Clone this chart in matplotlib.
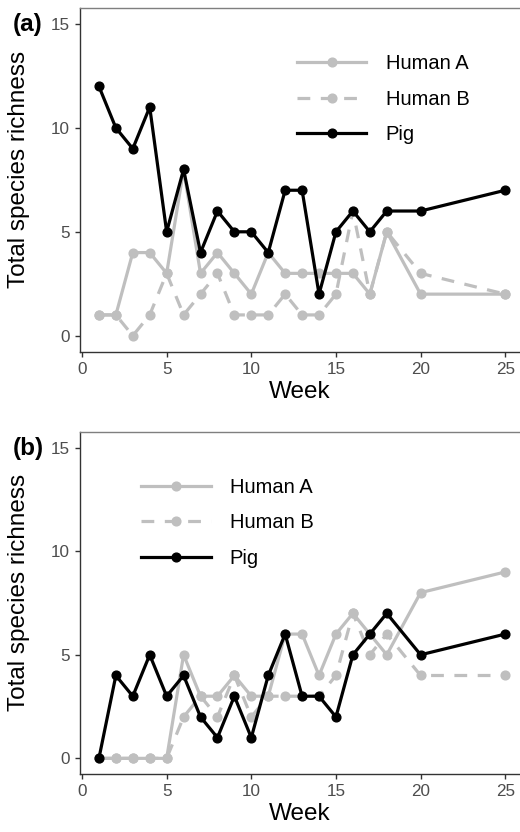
import matplotlib
matplotlib.use("Agg")
import matplotlib.pyplot as plt

plt.rcParams['font.family'] = ['Liberation Sans', 'DejaVu Sans']

weeks = [1, 2, 3, 4, 5, 6, 7, 8, 9, 10, 11, 12, 13, 14, 15, 16, 17, 18, 20, 25]

# Panel (a)
a_human_a = [1, 1, 4, 4, 3, 8, 3, 4, 3, 2, 4, 3, 3, 3, 3, 3, 2, 5, 2, 2]
a_human_b = [1, 1, 0, 1, 3, 1, 2, 3, 1, 1, 1, 2, 1, 1, 2, 6, 2, 5, 3, 2]
a_pig     = [12, 10, 9, 11, 5, 8, 4, 6, 5, 5, 4, 7, 7, 2, 5, 6, 5, 6, 6, 7]

# Panel (b)
b_human_a = [0, 0, 0, 0, 0, 5, 3, 3, 4, 3, 3, 6, 6, 4, 6, 7, 6, 5, 8, 9]
b_human_b = [0, 0, 0, 0, 0, 2, 3, 2, 4, 2, 3, 3, 3, 3, 4, 7, 5, 6, 4, 4]
b_pig     = [0, 4, 3, 5, 3, 4, 2, 1, 3, 1, 4, 6, 3, 3, 2, 5, 6, 7, 5, 6]

series_names = ["Human A", "Human B", "Pig"]
panel_labels = ["(a)", "(b)"]
x_ticks = [0, 5, 10, 15, 20, 25]
y_ticks = [0, 5, 10, 15]

GREY = "#bfbfbf"
W, H = 520, 832
fig = plt.figure(figsize=(W / 100, H / 100), dpi=100)

panels = [
    dict(data=(a_human_a, a_human_b, a_pig), top=8.0, bottom=351.7, leg_x=0.493, label=panel_labels[0]),
    dict(data=(b_human_a, b_human_b, b_pig), top=431.7, bottom=774.3, leg_x=0.139, label=panel_labels[1]),
]

for p in panels:
    left_px = 80
    ax = fig.add_axes([left_px / W, 1 - p["bottom"] / H, (W - left_px) / W, (p["bottom"] - p["top"]) / H])
    ha, hb, pig = p["data"]
    lw = 2.3
    ms = 6.3
    ax.plot(weeks, ha, color=GREY, lw=lw, marker='o', ms=ms, label=series_names[0], zorder=2)
    ax.plot(weeks, hb, color=GREY, lw=lw, marker='o', ms=ms, ls=(0, (4, 3.3)), label=series_names[1], zorder=2)
    ax.plot(weeks, pig, color="black", lw=lw, marker='o', ms=ms, label=series_names[2], zorder=3)

    ax.set_xlim(-0.118, 25.87)
    ax.set_ylim(-0.77, 15.77)
    ax.set_xticks(x_ticks)
    ax.set_yticks(y_ticks)
    ax.tick_params(axis='both', labelsize=12.3, labelcolor="#4d4d4d", color="#333333",
                   length=3.8, width=1.0, pad=3.3)
    for s in ["left", "bottom"]:
        ax.spines[s].set_color("#333333")
        ax.spines[s].set_linewidth(1.0)
    ax.spines["top"].set_color("#7f7f7f")
    ax.spines["top"].set_linewidth(1.0)
    ax.spines["right"].set_visible(False)

    ax.set_xlabel("Week", fontsize=17.5, labelpad=3)
    ax.set_ylabel("Total species richness", fontsize=17.5)
    ax.yaxis.set_label_coords(-0.114, 0.53)

    leg = ax.legend(loc="upper left", bbox_to_anchor=(p["leg_x"], 0.866), frameon=False,
                    fontsize=14.5, handlelength=3.45, handletextpad=0.95,
                    labelspacing=0.82, borderpad=0, borderaxespad=0, numpoints=1)

    fig.text(13 / W, 1 - (p["top"] + 17) / H, p["label"], fontsize=17.5, fontweight="bold",
             ha="left", va="center")

fig.savefig("out.png", dpi=100)
